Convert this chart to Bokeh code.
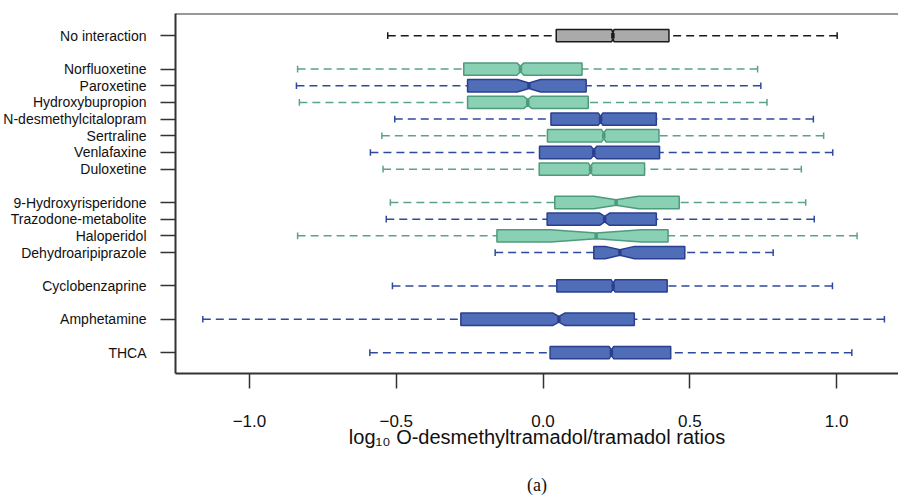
from bokeh.plotting import figure
from bokeh.models import Range1d, FixedTicker, Span, LinearAxis, ColumnDataSource
from bokeh.embed import file_html
from bokeh.resources import INLINE

# ---------------- data ----------------
categories = ["No interaction", "Norfluoxetine", "Paroxetine", "Hydroxybupropion",
              "N-desmethylcitalopram", "Sertraline", "Venlafaxine", "Duloxetine",
              "9-Hydroxyrisperidone", "Trazodone-metabolite", "Haloperidol",
              "Dehydroaripiprazole", "Cyclobenzaprine", "Amphetamine", "THCA"]
positions = [0, 2, 3, 4, 5, 6, 7, 8, 10, 11, 12, 13, 15, 17, 19]
groups = ["none", "green", "blue", "green", "blue", "green", "blue", "green",
          "green", "blue", "green", "blue", "blue", "blue", "blue"]
whisker_low = [-0.529, -0.836, -0.840, -0.830, -0.505, -0.549, -0.588, -0.545,
               -0.520, -0.534, -0.836, -0.163, -0.513, -1.159, -0.590]
q1 = [0.045, -0.270, -0.257, -0.257, 0.027, 0.015, -0.012, -0.013,
      0.040, 0.014, -0.157, 0.173, 0.047, -0.280, 0.024]
median = [0.238, -0.077, -0.048, -0.052, 0.196, 0.207, 0.173, 0.162,
          0.249, 0.210, 0.181, 0.262, 0.239, 0.054, 0.233]
q3 = [0.429, 0.133, 0.147, 0.154, 0.386, 0.395, 0.397, 0.346,
      0.464, 0.386, 0.426, 0.483, 0.423, 0.311, 0.435]
whisker_high = [1.002, 0.731, 0.742, 0.763, 0.921, 0.956, 0.987, 0.880,
                0.895, 0.924, 1.070, 0.784, 0.986, 1.163, 1.052]
notch = [0.004, 0.012, 0.040, 0.014, 0.008, 0.008, 0.010, 0.008,
         0.076, 0.017, 0.155, 0.050, 0.007, 0.020, 0.008]
x_ticks = [-1.0, -0.5, 0.0, 0.5, 1.0]
x_tick_labels = ["\u22121.0", "\u22120.5", "0.0", "0.5", "1.0"]
x_title = "log\u2081\u2080 O-desmethyltramadol/tramadol ratios"
caption = "(a)"

fill_colors = {"none": "#AAAAAA", "green": "#89D0B5", "blue": "#506DB8"}
line_colors = {"none": "#1A1A1A", "green": "#4E9A7D", "blue": "#2B3F91"}
whisk_colors = {"none": "#1A1A1A", "green": "#5AA387", "blue": "#2E4A9E"}

half = 0.37       # half box height (y units)
nfrac = 0.45      # notch fraction
cap = 0.2

# ---------------- figure ----------------
p = figure(width=898, height=497,
           x_range=Range1d(-1.252, 1.211), y_range=Range1d(20.25, -1.33),
           output_backend="svg", toolbar_location=None,
           min_border_left=175, min_border_right=0, min_border_top=13,
           min_border_bottom=123)
p.xgrid.visible = False
p.ygrid.visible = False
p.outline_line_color = None
p.background_fill_color = "white"
p.border_fill_color = "white"

# whiskers
wsrc = ColumnDataSource(dict(
    lo=whisker_low, hi=whisker_high, q1=q1, q3=q3, y=positions,
    y0=[y - cap for y in positions], y1=[y + cap for y in positions],
    c=[whisk_colors[g] for g in groups]))
p.segment(x0="lo", y0="y", x1="q1", y1="y", source=wsrc, line_color="c",
          line_width=1.5, line_dash="8 5")
p.segment(x0="hi", y0="y", x1="q3", y1="y", source=wsrc, line_color="c",
          line_width=1.5, line_dash="8 5")
p.segment(x0="lo", y0="y0", x1="lo", y1="y1", source=wsrc, line_color="c", line_width=1.5)
p.segment(x0="hi", y0="y0", x1="hi", y1="y1", source=wsrc, line_color="c", line_width=1.5)

# notched boxes
xs, ys = [], []
for a, m, b, n, y in zip(q1, median, q3, notch, positions):
    xs.append([a, m - n, m, m + n, b, b, m + n, m, m - n, a])
    ys.append([y - half, y - half, y - half * nfrac, y - half, y - half,
               y + half, y + half, y + half * nfrac, y + half, y + half])
bsrc = ColumnDataSource(dict(xs=xs, ys=ys,
                             f=[fill_colors[g] for g in groups],
                             l=[line_colors[g] for g in groups]))
p.patches(xs="xs", ys="ys", source=bsrc, fill_color="f", line_color="l", line_width=1.5)

# medians
msrc = ColumnDataSource(dict(m=median, y0=[y - half * nfrac for y in positions],
                             y1=[y + half * nfrac for y in positions],
                             l=[line_colors[g] for g in groups]))
p.segment(x0="m", y0="y0", x1="m", y1="y1", source=msrc, line_color="l", line_width=3.5)

# axes
p.yaxis.ticker = FixedTicker(ticks=positions)
p.yaxis.major_label_overrides = {pos: name for pos, name in zip(positions, categories)}
p.yaxis.minor_tick_line_color = None
p.yaxis.major_tick_out = 15
p.yaxis.major_tick_in = 0
p.yaxis.major_label_standoff = 14
p.yaxis.major_label_text_font = "Liberation Sans"
p.yaxis.major_label_text_font_size = "14px"
p.yaxis.major_label_text_color = "#111111"

p.xaxis.ticker = FixedTicker(ticks=x_ticks)
p.xaxis.major_label_overrides = {t: lab for t, lab in zip(x_ticks, x_tick_labels)}
p.xaxis.minor_tick_line_color = None
p.xaxis.major_tick_out = 15
p.xaxis.major_tick_in = 0
p.xaxis.major_label_standoff = 26
p.xaxis.major_label_text_font = "Liberation Sans"
p.xaxis.major_label_text_font_size = "17px"
p.xaxis.major_label_text_color = "#111111"
p.xaxis.axis_label = x_title
p.xaxis.axis_label_standoff = -4
p.xaxis.axis_label_text_font = "Liberation Sans"
p.xaxis.axis_label_text_font_size = "20px"
p.xaxis.axis_label_text_font_style = "normal"
p.xaxis.axis_label_text_color = "#111111"

for ax in (p.xaxis, p.yaxis):
    ax.axis_line_width = 2
    ax.axis_line_color = "#333333"
    ax.major_tick_line_width = 1.5
    ax.major_tick_line_color = "#333333"

p.add_layout(Span(location=-1.33, dimension="width", line_color="#333333", line_width=2))

# caption "(a)" as a tick-less axis label stacked below the x axis
cap_axis = LinearAxis(ticker=FixedTicker(ticks=[]), axis_label=caption,
                      axis_line_color=None, major_tick_line_color=None,
                      minor_tick_line_color=None, major_tick_out=0, major_tick_in=0,
                      major_label_text_font_size="0px", major_label_standoff=0,
                      axis_label_standoff=24, axis_label_text_font="Liberation Serif",
                      axis_label_text_font_style="normal", axis_label_text_font_size="18px",
                      axis_label_text_color="#111111")
p.add_layout(cap_axis, "below")

open("out.html", "w").write(file_html(p, INLINE))
